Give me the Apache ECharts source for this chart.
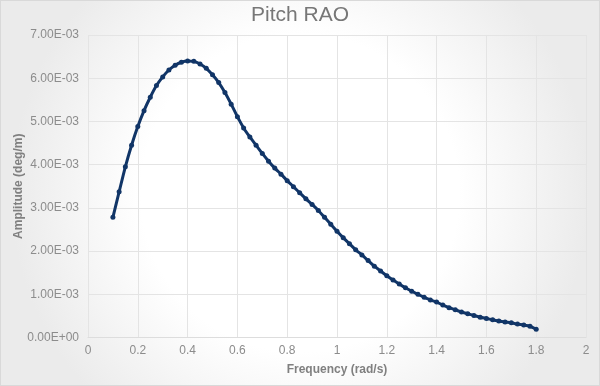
<!DOCTYPE html>
<html>
<head>
<meta charset="utf-8">
<script src="https://cdn.jsdelivr.net/npm/echarts@6/dist/echarts.min.js"></script>
<style>
html,body{margin:0;padding:0;background:#fff;}
#wrap{position:relative;width:600px;height:386px;}
#c{position:absolute;left:0;top:0;width:600px;height:386px;}
#frame{position:absolute;left:0;top:0;width:600px;height:386px;box-sizing:border-box;border:1px solid #d9d9d9;pointer-events:none;}
</style>
</head>
<body>
<div id="wrap"><div id="c"></div><div id="frame"></div></div>
<script>
const titleText = 'Pitch RAO';
const xName = 'Frequency (rad/s)';
const yName = 'Amplitude (deg/m)';
const xTicks = [0, 0.2, 0.4, 0.6, 0.8, 1, 1.2, 1.4, 1.6, 1.8, 2];
const yTicks = [0, 0.001, 0.002, 0.003, 0.004, 0.005, 0.006, 0.007];
const frequency = [
  0.100,0.125,0.150,0.175,0.200,0.225,0.250,0.275,0.300,0.325,
  0.350,0.375,0.400,0.425,0.450,0.475,0.500,0.525,0.550,0.575,
  0.600,0.625,0.650,0.675,0.700,0.725,0.750,0.775,0.800,0.825,
  0.850,0.875,0.900,0.925,0.950,0.975,1.000,1.025,1.050,1.075,
  1.100,1.125,1.150,1.175,1.200,1.225,1.250,1.275,1.300,1.325,
  1.350,1.375,1.400,1.425,1.450,1.475,1.500,1.525,1.550,1.575,
  1.600,1.625,1.650,1.675,1.700,1.725,1.750,1.775,1.800
];
const amplitude = [
  0.00278,0.00337,0.00395,0.00445,0.00488,0.00525,0.00556,0.00583,0.00603,0.00619,
  0.00630,0.00637,0.00640,0.00639,0.00633,0.00623,0.00608,0.00590,0.00567,0.00540,
  0.00511,0.00485,0.00464,0.00445,0.00426,0.00408,0.00392,0.00378,0.00363,0.00349,
  0.00335,0.00321,0.00308,0.00294,0.00278,0.00262,0.00246,0.00231,0.00217,0.00203,
  0.00191,0.00178,0.00165,0.00154,0.00143,0.00133,0.00124,0.00115,0.00107,0.00100,
  0.00093,0.00087,0.00082,0.00075,0.00069,0.00064,0.00059,0.00055,0.00051,0.00047,
  0.00044,0.00041,0.00038,0.00036,0.00034,0.00031,0.00029,0.00026,0.00019
];

function sci(v) {
  if (v === 0) return '0.00E+00';
  let e = Math.floor(Math.log10(Math.abs(v)) + 1e-9);
  let m = v / Math.pow(10, e);
  if (Math.round(m * 100) / 100 >= 10) { m /= 10; e += 1; }
  const sign = e < 0 ? '-' : '+';
  const ae = Math.abs(e);
  return m.toFixed(2) + 'E' + sign + (ae < 10 ? '0' : '') + ae;
}

const chart = echarts.init(document.getElementById('c'), null, {renderer: 'canvas'});
const data = frequency.map((f, i) => [f, amplitude[i]]);
const font = '"Liberation Sans", Arial, sans-serif';
chart.setOption({
  animation: false,
  backgroundColor: {
    type: 'radial', x: 0.5, y: 0.5, r: 0.75,
    colorStops: [{offset: 0, color: '#ffffff'}, {offset: 0.55, color: '#ffffff'}, {offset: 1, color: '#ebebeb'}]
  },
  title: {
    text: titleText, left: 'center', top: 0,
    textStyle: {fontFamily: font, fontSize: 21, fontWeight: 'normal', color: '#777777'}
  },
  grid: {left: 88, right: 14, top: 35, bottom: 48.5, containLabel: false, outerBoundsMode: 'none'},
  xAxis: {
    type: 'value', min: xTicks[0], max: xTicks[xTicks.length - 1], interval: 0.2,
    name: xName, nameLocation: 'middle', nameGap: 26, nameMoveOverlap: false,
    nameTextStyle: {fontFamily: font, fontSize: 12, fontWeight: 'bold', color: '#808080'},
    axisLine: {show: true, lineStyle: {color: '#dddddd'}},
    axisTick: {show: false},
    splitLine: {show: true, lineStyle: {color: '#e4e4e4', width: 1}},
    axisLabel: {fontFamily: font, fontSize: 12, color: '#8c8c8c', margin: 7,
      formatter: v => String(Math.round(v * 10) / 10)}
  },
  yAxis: {
    type: 'value', min: yTicks[0], max: yTicks[yTicks.length - 1], interval: 0.001,
    name: yName, nameLocation: 'middle', nameGap: 63, nameRotate: 90, nameMoveOverlap: false,
    nameTextStyle: {fontFamily: font, fontSize: 12, fontWeight: 'bold', color: '#808080'},
    axisLine: {show: false},
    axisTick: {show: false},
    splitLine: {show: true, lineStyle: {color: '#e4e4e4', width: 1}},
    axisLabel: {fontFamily: font, fontSize: 12, color: '#8c8c8c', margin: 9, formatter: v => sci(v)}
  },
  series: [{
    type: 'line', data: data, smooth: 0.3,
    lineStyle: {color: '#113567', width: 3},
    itemStyle: {color: '#113567'},
    symbol: 'circle', symbolSize: 5, showSymbol: true
  }]
});
</script>
</body>
</html>
